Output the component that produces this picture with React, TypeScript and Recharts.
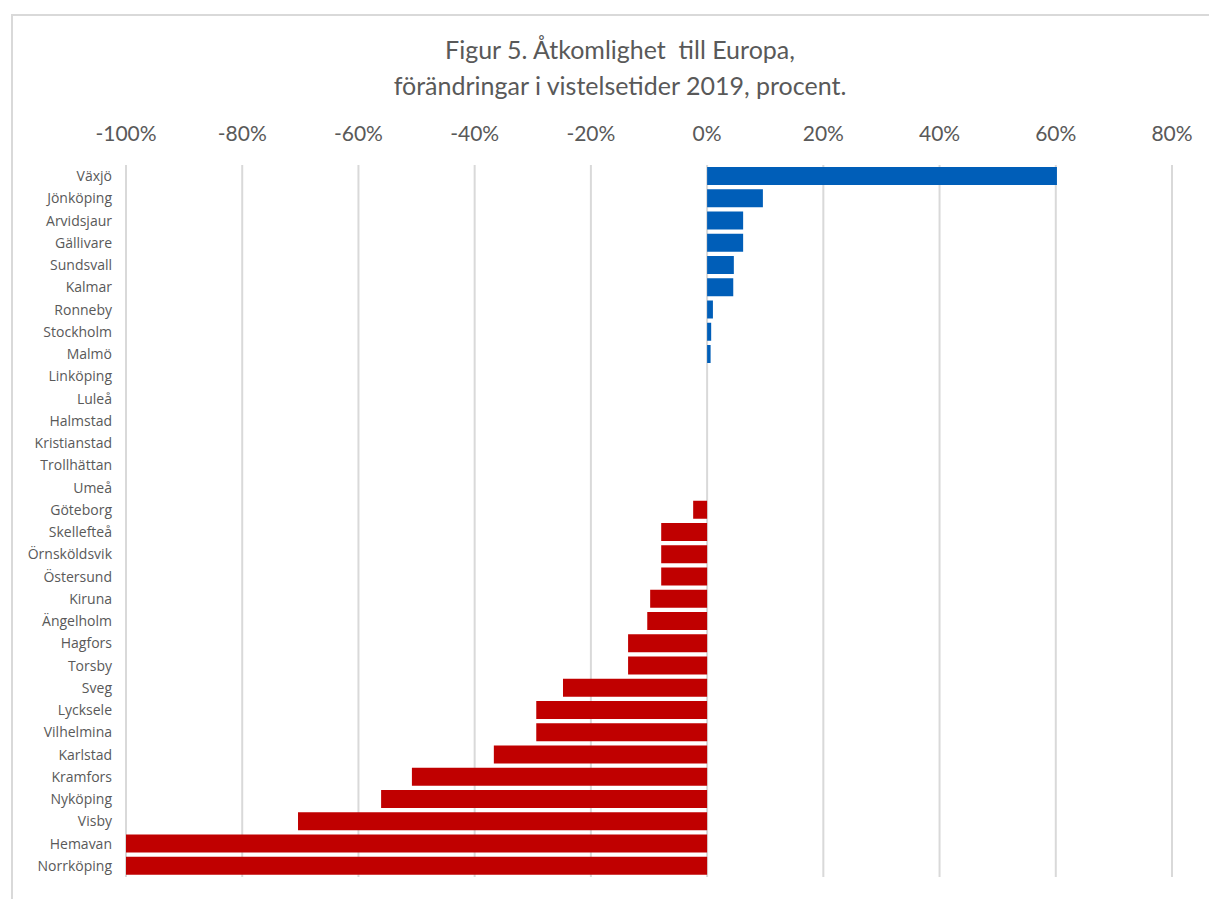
import { BarChart, Bar, XAxis, YAxis, CartesianGrid, Cell } from 'recharts';

const cities = [
  'Växjö', 'Jönköping', 'Arvidsjaur', 'Gällivare', 'Sundsvall', 'Kalmar', 'Ronneby', 'Stockholm',
  'Malmö', 'Linköping', 'Luleå', 'Halmstad', 'Kristianstad', 'Trollhättan', 'Umeå', 'Göteborg',
  'Skellefteå', 'Örnsköldsvik', 'Östersund', 'Kiruna', 'Ängelholm', 'Hagfors', 'Torsby', 'Sveg',
  'Lycksele', 'Vilhelmina', 'Karlstad', 'Kramfors', 'Nyköping', 'Visby', 'Hemavan', 'Norrköping',
];

const change = [
  0.602, 0.096, 0.062, 0.062, 0.046, 0.045, 0.01, 0.007,
  0.006, 0, 0, 0, 0, 0, 0, -0.024,
  -0.079, -0.079, -0.079, -0.098, -0.103, -0.136, -0.136, -0.248,
  -0.294, -0.294, -0.367, -0.508, -0.561, -0.704, -1, -1,
];

const xTicks = [-1, -0.8, -0.6, -0.4, -0.2, 0, 0.2, 0.4, 0.6, 0.8];

const titleLines = ['Figur 5. Åtkomlighet  till Europa,', 'förändringar i vistelsetider 2019, procent.'];

const data = cities.map((city, i) => ({ city, value: change[i] }));

const BLUE = '#005eb8';
const RED = '#c00000';
const TEXT = '#595959';

export default function App() {
  return (
    <div
      style={{
        position: 'absolute',
        left: 11,
        top: 14,
        width: 1196,
        height: 883,
        borderTop: '2px solid #d9d9d9',
        borderLeft: '2px solid #d9d9d9',
        fontFamily: 'Lato, sans-serif',
        overflow: 'hidden',
      }}
    >
      <div
        style={{
          position: 'absolute',
          top: 15,
          left: 0,
          width: 1214,
          textAlign: 'center',
          color: TEXT,
          fontSize: 25,
          lineHeight: '36px',
          whiteSpace: 'pre',
        }}
      >
        {titleLines.map((t) => (
          <div key={t}>{t}</div>
        ))}
      </div>
      <div style={{ position: 'absolute', top: 0, left: 0 }}>
        <BarChart
          width={1190}
          height={880}
          data={data}
          layout="vertical"
          margin={{ top: 100, right: 31, bottom: 19, left: 0 }}
          barSize={18}
        >
          <CartesianGrid horizontal={false} stroke="#d9d9d9" strokeWidth={2} />
          <XAxis
            type="number"
            orientation="top"
            domain={[-1, 0.8]}
            ticks={xTicks}
            height={49}
            axisLine={false}
            tickLine={false}
            tickSize={0}
            tickMargin={24}
            interval={0}
            tickFormatter={(v: number) => `${Math.round(v * 100)}%`}
            tick={{ fill: TEXT, fontSize: 21, fontFamily: 'Lato, sans-serif' }}
          />
          <YAxis
            type="category"
            dataKey="city"
            width={113}
            axisLine={false}
            tickLine={false}
            tickSize={0}
            tickMargin={14}
            interval={0}
            tick={{ fill: TEXT, fontSize: 14, fontFamily: '"Open Sans", sans-serif' }}
          />
          <Bar dataKey="value" isAnimationActive={false}>
            {data.map((d) => (
              <Cell key={d.city} fill={d.value >= 0 ? BLUE : RED} />
            ))}
          </Bar>
        </BarChart>
      </div>
    </div>
  );
}
